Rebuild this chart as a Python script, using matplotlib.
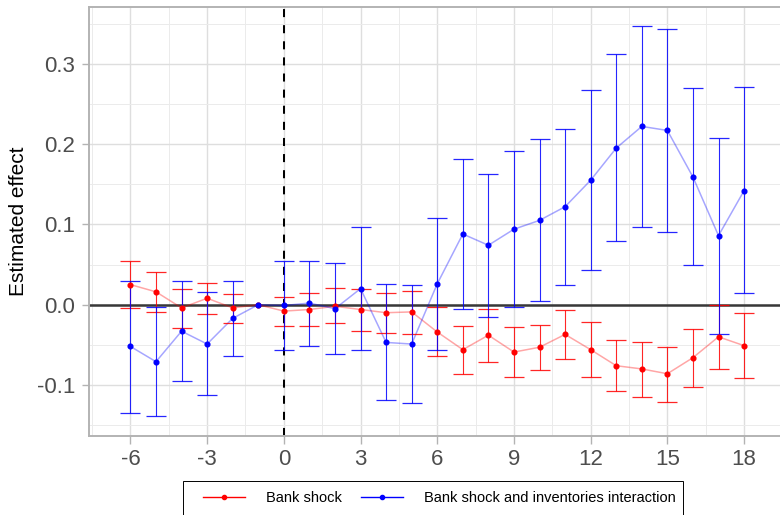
"""Event-study coefficients: bank shock vs bank shock x inventories interaction."""
import numpy as np
import matplotlib
matplotlib.use("Agg")
import matplotlib.pyplot as plt
from matplotlib.lines import Line2D
from matplotlib.patches import Rectangle
from matplotlib.ticker import MultipleLocator

plt.rcParams["font.family"] = ["Liberation Sans", "DejaVu Sans"]

# event time (years relative to shock); t = -1 is the omitted reference period
periods = np.arange(-6, 19)

bank_est = [0.025, 0.016, -0.004, 0.008, -0.004, 0.0, -0.008, -0.006, -0.002, -0.006,
            -0.010, -0.009, -0.034, -0.056, -0.038, -0.059, -0.053, -0.037, -0.056,
            -0.076, -0.080, -0.086, -0.066, -0.040, -0.051]
bank_lo = [-0.004, -0.009, -0.029, -0.011, -0.023, np.nan, -0.026, -0.027, -0.023, -0.033,
           -0.035, -0.037, -0.064, -0.086, -0.071, -0.090, -0.081, -0.068, -0.090,
           -0.108, -0.115, -0.121, -0.103, -0.080, -0.091]
bank_hi = [0.054, 0.041, 0.019, 0.027, 0.013, np.nan, 0.009, 0.015, 0.021, 0.020,
           0.015, 0.017, -0.003, -0.027, -0.005, -0.028, -0.025, -0.007, -0.022,
           -0.044, -0.047, -0.053, -0.030, 0.000, -0.010]

inter_est = [-0.052, -0.071, -0.033, -0.049, -0.017, 0.0, -0.001, 0.002, -0.005, 0.020,
             -0.047, -0.049, 0.026, 0.088, 0.074, 0.094, 0.105, 0.122, 0.155, 0.195,
             0.222, 0.217, 0.159, 0.086, 0.142]
inter_lo = [-0.135, -0.139, -0.095, -0.113, -0.064, np.nan, -0.056, -0.051, -0.062, -0.057,
            -0.119, -0.122, -0.056, -0.005, -0.015, -0.003, 0.004, 0.024, 0.043, 0.079,
            0.097, 0.091, 0.049, -0.037, 0.014]
inter_hi = [0.030, -0.003, 0.030, 0.016, 0.029, np.nan, 0.054, 0.055, 0.052, 0.097,
            0.026, 0.025, 0.108, 0.181, 0.163, 0.191, 0.206, 0.219, 0.267, 0.312,
            0.347, 0.343, 0.270, 0.208, 0.271]

series = [
    ("Bank shock", "red", bank_est, bank_lo, bank_hi),
    ("Bank shock and inventories interaction", "blue", inter_est, inter_lo, inter_hi),
]

W, H = 780, 515
fig = plt.figure(figsize=(W / 100, H / 100), dpi=100)
ax = fig.add_axes([88.5 / W, 1 - 435.5 / H, (786 - 88.5) / W, (435.5 - 7) / H])

ax.set_xlim(-7.64, 19.64)
ax.set_ylim(-0.1629, 0.3707)
ax.xaxis.set_major_locator(MultipleLocator(3))
ax.xaxis.set_minor_locator(MultipleLocator(1.5))
ax.yaxis.set_major_locator(MultipleLocator(0.1))
ax.yaxis.set_minor_locator(MultipleLocator(0.05))
ax.grid(which="major", color="#dedede", lw=1.0, zorder=0)
ax.grid(which="minor", color="#ebebeb", lw=0.7, zorder=0)
ax.set_axisbelow(True)

for sp in ax.spines.values():
    sp.set_color("#b3b3b3")
    sp.set_linewidth(1.4)
ax.tick_params(which="major", length=5.4, width=1.0, color="#b3b3b3",
               labelsize=16, labelcolor="#4d4d4d", pad=4.2)
ax.tick_params(which="minor", length=0)

xt = np.arange(-6, 19, 3)
ax.set_xticks(xt)
ax.set_xticklabels([str(v) for v in xt])
yt = [-0.1, 0.0, 0.1, 0.2, 0.3]
ax.set_yticks(yt)
ax.set_yticklabels([f"{v:.1f}" for v in yt])

ax.axhline(0, color="#383838", lw=1.8, zorder=2)
ax.axvline(0, color="black", lw=1.45, dashes=(4, 4), zorder=2)

for name, col, est, lo, hi in series:
    est = np.asarray(est)
    lo = np.asarray(lo)
    hi = np.asarray(hi)
    ax.plot(periods, est, color=col, alpha=0.35, lw=1.1, zorder=3)
    ok = ~np.isnan(lo)
    ax.errorbar(periods[ok], est[ok], yerr=[est[ok] - lo[ok], hi[ok] - est[ok]],
                fmt="none", ecolor=col, elinewidth=0.8, capsize=7.2, capthick=0.9,
                alpha=0.85, zorder=4)
    ax.plot(periods, est, "o", color=col, ms=3.4, zorder=5)

ax.set_ylabel("Estimated effect", fontsize=15, color="black")
ax.yaxis.set_label_coords(-0.087, 0.5)

# legend frame along the bottom edge
fig.patches.append(Rectangle((182.7 / W, 1 - 517 / H), (683.3 - 182.7) / W, 36 / H,
                             transform=fig.transFigure, fill=False,
                             edgecolor="black", lw=0.7))
handles = [Line2D([], [], color=col, lw=1.0, marker="o", ms=3.0)
           for _, col, *_ in series]
fig.legend(handles, [s[0] for s in series], loc="center left",
           bbox_to_anchor=(203 / W, 1 - 498.3 / H), ncol=2, frameon=False,
           fontsize=10.5, handlelength=2.88, handletextpad=1.42,
           columnspacing=1.34, borderpad=0, borderaxespad=0)

fig.savefig("out.png", dpi=100)
